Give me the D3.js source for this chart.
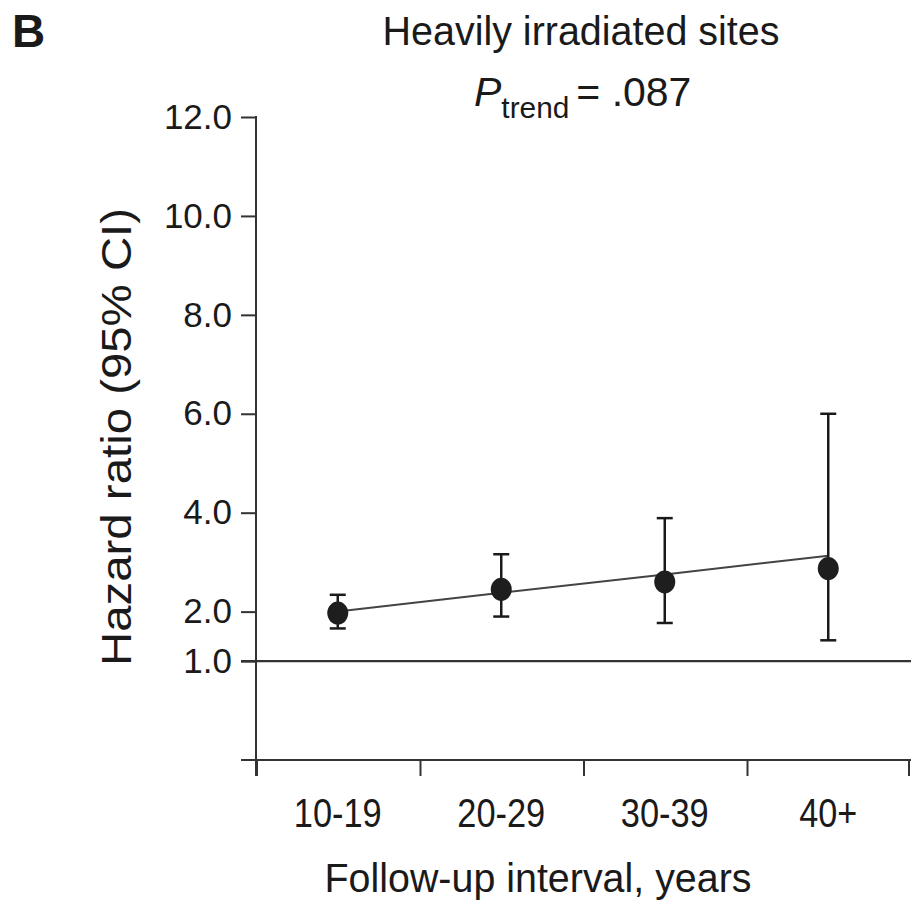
<!DOCTYPE html>
<html>
<head>
<meta charset="utf-8">
<script src="https://cdn.jsdelivr.net/npm/d3@7"></script>
<style>
  html, body { margin: 0; padding: 0; background: #fff; }
  svg { display: block; }
  text { font-family: "Liberation Sans Narrow", "Liberation Sans", Arial, sans-serif; fill: #1a1a1a; }
</style>
</head>
<body>
<svg id="chart" width="914" height="902"></svg>
<script>
// Hazard ratios by follow-up interval (heavily irradiated sites)
const categories = ["10-19", "20-29", "30-39", "40+"];
const hazardRatio = [1.97, 2.45, 2.60, 2.87];
const ciLower = [1.66, 1.90, 1.77, 1.42];
const ciUpper = [2.34, 3.16, 3.89, 6.00];
// fitted log-linear trend at each interval
const trendFit = [2.00, 2.38, 2.75, 3.13];
const yTicks = [1, 2, 4, 6, 8, 10, 12];

const svg = d3.select("#chart");
const ink = "#1a1a1a";

const y = d3.scaleLinear().domain([-1, 12]).range([760, 117]);
const x = d3.scaleBand().domain(categories).range([256, 910]).paddingInner(0).paddingOuter(0);
const cx = d => x(d) + x.bandwidth() / 2;

// Y axis
const yAxis = svg.append("g")
  .attr("transform", "translate(256,0)")
  .call(d3.axisLeft(y).tickValues(yTicks).tickFormat(d3.format(".1f")).tickSize(15).tickPadding(9));
yAxis.select(".domain").remove();
yAxis.selectAll(".tick line").attr("stroke", "#333").attr("stroke-width", 2);
yAxis.selectAll(".tick text")
  .style("font-family", "'Liberation Sans', Arial, sans-serif")
  .attr("font-size", 35).attr("fill", ink);

svg.append("line")
  .attr("x1", 256).attr("x2", 256)
  .attr("y1", y(12) - 1).attr("y2", 776)
  .attr("stroke", "#333").attr("stroke-width", 2);

// Bottom axis line and reference line at HR = 1
svg.append("line")
  .attr("x1", 241).attr("x2", 911)
  .attr("y1", y(-1)).attr("y2", y(-1))
  .attr("stroke", "#333").attr("stroke-width", 2.2);
svg.append("line")
  .attr("x1", 241).attr("x2", 911)
  .attr("y1", y(1)).attr("y2", y(1))
  .attr("stroke", "#333").attr("stroke-width", 2.2);

// X axis: labels at band centres, ticks at band boundaries
const xAxis = svg.append("g")
  .attr("transform", `translate(0,${y(-1)})`)
  .call(d3.axisBottom(x).tickSize(0).tickPadding(38));
xAxis.select(".domain").remove();
xAxis.selectAll(".tick text")
  .attr("font-size", 41).attr("fill", ink)
  .attr("textLength", d => d.length > 3 ? 88 : 58)
  .attr("lengthAdjust", "spacingAndGlyphs");

const bounds = categories.map(d => x(d)).concat([x.range()[1]]);
svg.append("g").selectAll("line").data(bounds).join("line")
  .attr("x1", d => d + (d === bounds[bounds.length - 1] ? -1 : 1))
  .attr("x2", d => d + (d === bounds[bounds.length - 1] ? -1 : 1))
  .attr("y1", y(-1)).attr("y2", y(-1) + 16)
  .attr("stroke", "#333").attr("stroke-width", 2);

// Trend line
svg.append("path")
  .datum(categories.map((c, i) => [cx(c), y(trendFit[i])]))
  .attr("d", d3.line())
  .attr("fill", "none").attr("stroke", "#444").attr("stroke-width", 2);

// Confidence intervals
const ci = svg.append("g");
categories.forEach((c, i) => {
  ci.append("line")
    .attr("x1", cx(c)).attr("x2", cx(c))
    .attr("y1", y(ciLower[i])).attr("y2", y(ciUpper[i]))
    .attr("stroke", ink).attr("stroke-width", 2.5);
  [ciLower[i], ciUpper[i]].forEach(v => {
    ci.append("line")
      .attr("x1", cx(c) - 8).attr("x2", cx(c) + 8)
      .attr("y1", y(v)).attr("y2", y(v))
      .attr("stroke", ink).attr("stroke-width", 2.5);
  });
});

// Point estimates
svg.append("g").selectAll("ellipse").data(categories).join("ellipse")
  .attr("cx", d => cx(d))
  .attr("cy", (d, i) => y(hazardRatio[i]))
  .attr("rx", 10.5).attr("ry", 11.5)
  .attr("fill", "#1e1e1e");

// Panel letter and titles
svg.append("text").attr("x", 12).attr("y", 47)
  .style("font-family", "'Liberation Sans', Arial, sans-serif")
  .attr("font-size", 46).attr("font-weight", "bold").attr("fill", "#111").text("B");

svg.append("text").attr("x", 581).attr("y", 45)
  .attr("text-anchor", "middle").attr("font-size", 41)
  .attr("textLength", 397).attr("lengthAdjust", "spacingAndGlyphs")
  .text("Heavily irradiated sites");

const pt = svg.append("text").attr("x", 474).attr("y", 106).attr("font-size", 41);
pt.append("tspan").attr("font-style", "italic").text("P");
pt.append("tspan").attr("font-size", 29).attr("dy", 12)
  .attr("textLength", 68).attr("lengthAdjust", "spacingAndGlyphs").text("trend");
pt.append("tspan").attr("dy", -12).attr("dx", 7)
  .attr("textLength", 115).attr("lengthAdjust", "spacingAndGlyphs").text("= .087");

// Axis titles
svg.append("text")
  .attr("transform", "translate(131,437) rotate(-90)")
  .attr("text-anchor", "middle").attr("font-size", 42)
  .attr("textLength", 458).attr("lengthAdjust", "spacingAndGlyphs")
  .text("Hazard ratio (95% CI)");

svg.append("text").attr("x", 538).attr("y", 892)
  .attr("text-anchor", "middle").attr("font-size", 41)
  .attr("textLength", 427).attr("lengthAdjust", "spacingAndGlyphs")
  .text("Follow-up interval, years");
</script>
</body>
</html>
